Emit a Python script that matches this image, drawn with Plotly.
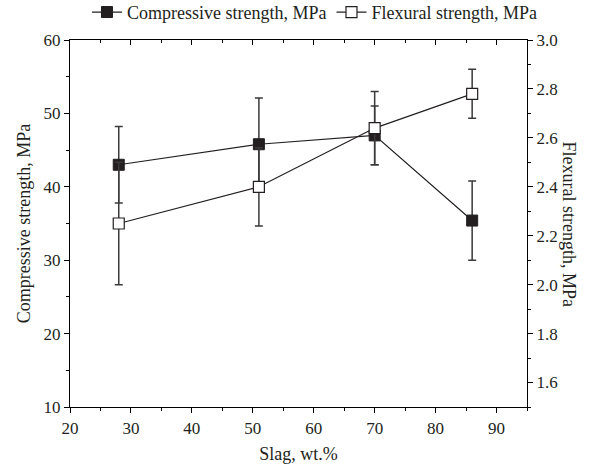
import plotly.graph_objects as go

# Slag content of each mix (wt.%)
slag = [28, 51, 70, 86]

# Compressive strength (MPa) and its spread
compressive = [43.0, 45.8, 47.0, 35.4]
compressive_err = [5.2, 6.3, 4.0, 5.4]

# Flexural strength (MPa) and its spread
flexural = [2.25, 2.40, 2.64, 2.78]
flexural_err = [0.25, 0.16, 0.15, 0.10]

x_ticks = [20, 30, 40, 50, 60, 70, 80, 90]
left_ticks = [10, 20, 30, 40, 50, 60]
right_ticks = [1.6, 1.8, 2.0, 2.2, 2.4, 2.6, 2.8, 3.0]

FONT = "Liberation Serif"
INK = "#231f20"

fig = go.Figure()

fig.add_trace(go.Scatter(
    x=slag, y=compressive, name="Compressive strength, MPa",
    mode="lines+markers",
    line=dict(color=INK, width=1.2),
    marker=dict(symbol="square", size=11, color=INK, line=dict(color=INK, width=1)),
    error_y=dict(type="data", array=compressive_err, color="#3a3a3a", thickness=1.5, width=4),
    yaxis="y",
))

fig.add_trace(go.Scatter(
    x=slag, y=flexural, name="Flexural strength, MPa",
    mode="lines+markers",
    line=dict(color=INK, width=1.2),
    marker=dict(symbol="square", size=11, color="white", line=dict(color=INK, width=1.2)),
    error_y=dict(type="data", array=flexural_err, color="#3a3a3a", thickness=1.5, width=4),
    yaxis="y2",
))

tick_font = dict(family=FONT, size=17, color=INK)
title_font = dict(family=FONT, size=18, color=INK)

axis_common = dict(
    showgrid=False, zeroline=False, showline=True,
    linecolor="black", linewidth=1.2,
    tickcolor="black", tickwidth=1.2,
)

fig.update_layout(
    width=590, height=468,
    margin=dict(l=70, r=63, t=40, b=61, autoexpand=False),
    paper_bgcolor="white", plot_bgcolor="white",
    font=dict(family=FONT, color=INK, size=17),
    showlegend=True,
    legend=dict(
        orientation="h", x=0.535, xanchor="center", y=1.025, yanchor="bottom",
        font=dict(family=FONT, size=18, color=INK),
        itemwidth=30, tracegroupgap=0, bgcolor="rgba(0,0,0,0)",
    ),
    xaxis=dict(
        range=[20, 95], tickvals=x_ticks, ticks="outside", ticklen=5,
        tickfont=tick_font,
        minor=dict(dtick=5, ticks="outside", ticklen=3, tickcolor="black", tickwidth=1.2),
        title=dict(text="Slag, wt.%", font=title_font, standoff=10),
        **axis_common,
    ),
    xaxis2=dict(
        range=[20, 95], overlaying="x", side="top", tickvals=x_ticks,
        ticks="inside", ticklen=5, showticklabels=False,
        minor=dict(dtick=5, ticks="inside", ticklen=3, tickcolor="black", tickwidth=1.2),
        **axis_common,
    ),
    yaxis=dict(
        range=[10, 60], tickvals=left_ticks, ticks="outside", ticklen=5,
        tickfont=tick_font,
        minor=dict(dtick=5, ticks="outside", ticklen=3, tickcolor="black", tickwidth=1.2),
        title=dict(text="Compressive strength, MPa", font=title_font, standoff=8),
        **axis_common,
    ),
    yaxis2=dict(
        range=[1.5, 3.0], overlaying="y", side="right", anchor="x",
        tickvals=right_ticks, ticktext=[f"{v:.1f}" for v in right_ticks],
        ticks="outside", ticklen=5, tickfont=tick_font,
        minor=dict(dtick=0.1, ticks="outside", ticklen=3, tickcolor="black", tickwidth=1.2),
        **axis_common,
    ),
    annotations=[dict(
        text="Flexural strength, MPa", textangle=90,
        xref="paper", yref="paper", x=1.092, y=0.5,
        xanchor="center", yanchor="middle", showarrow=False,
        font=title_font,
    )],
)

# an invisible trace keeps the top axis active
fig.add_trace(go.Scatter(x=[20, 95], y=[10, 10], xaxis="x2", yaxis="y",
                         mode="markers", marker=dict(opacity=0),
                         showlegend=False, hoverinfo="skip"))

fig.write_html("out.html")
